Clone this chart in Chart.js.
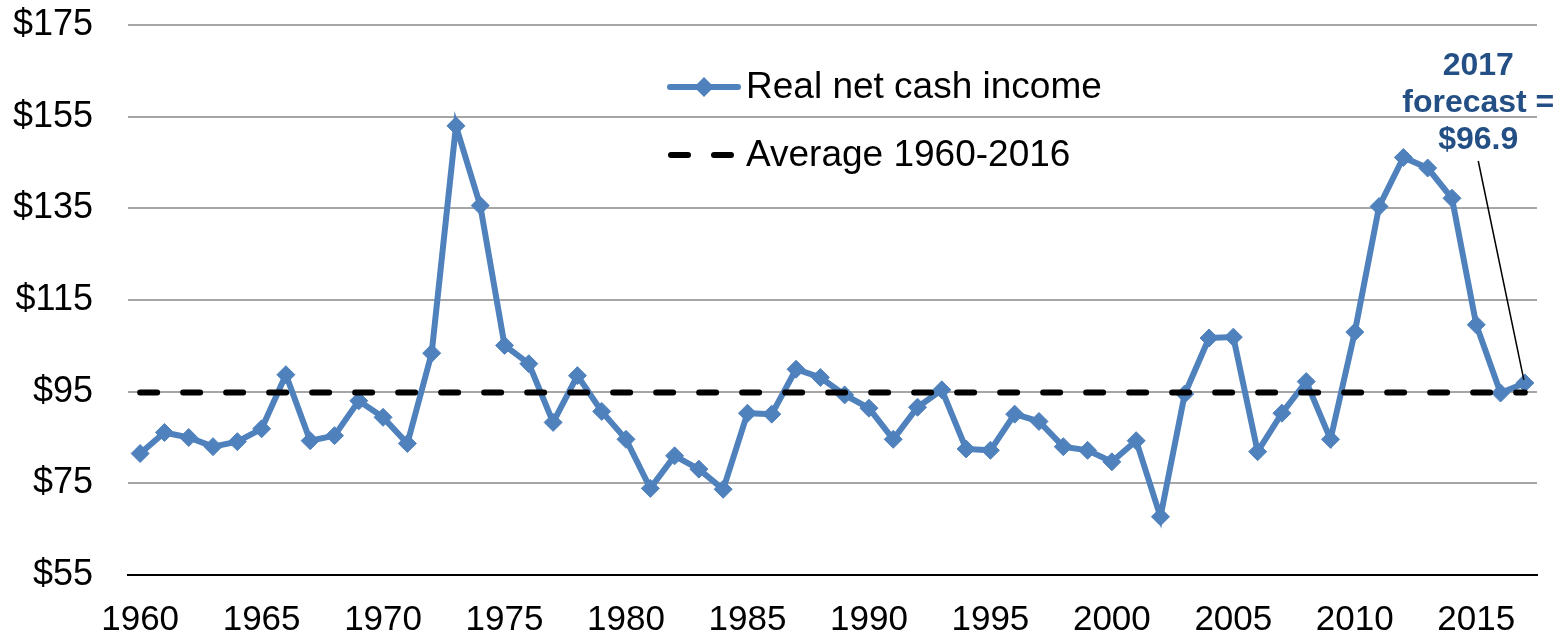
<!DOCTYPE html>
<html>
<head>
<meta charset="utf-8">
<script src="https://cdn.jsdelivr.net/npm/chart.js@4.4.0/dist/chart.umd.min.js"></script>
<style>
  html, body { margin: 0; padding: 0; background: #fff; }
  #wrap { width: 1560px; height: 637px; }
</style>
</head>
<body>
<div id="wrap"><canvas id="chart"></canvas></div>
<script>
// ---- data ----
const years = [
  "1960","1961","1962","1963","1964","1965","1966","1967","1968","1969",
  "1970","1971","1972","1973","1974","1975","1976","1977","1978","1979",
  "1980","1981","1982","1983","1984","1985","1986","1987","1988","1989",
  "1990","1991","1992","1993","1994","1995","1996","1997","1998","1999",
  "2000","2001","2002","2003","2004","2005","2006","2007","2008","2009",
  "2010","2011","2012","2013","2014","2015","2016","2017"
];

const realNetCashIncome = [
  81.5, 86.1, 85.0, 83.0, 84.1, 86.9, 98.7, 84.3, 85.4, 93.0,
  89.4, 83.7, 103.4, 153.0, 135.6, 105.1, 101.1, 88.3, 98.5, 90.7,
  84.6, 73.9, 81.0, 78.1, 73.7, 90.3, 90.1, 99.9, 98.1, 94.3,
  91.4, 84.6, 91.6, 95.4, 82.5, 82.2, 90.1, 88.5, 83.0, 82.2,
  79.7, 84.3, 67.7, 94.5, 106.7, 106.9, 81.9, 90.3, 97.2, 84.6,
  108.0, 135.4, 146.1, 143.8, 137.2, 109.6, 94.7, 96.9
];

const averageValue = 94.8; // 1960-2016 average

const tickLabels = ["1960","1965","1970","1975","1980","1985","1990","1995","2000","2005","2010","2015"];
const yTicks = [55, 75, 95, 115, 135, 155, 175];

const seriesNames = ["Real net cash income", "Average 1960-2016"];
const forecastLines = ["2017", "forecast =", "$" + realNetCashIncome[realNetCashIncome.length - 1]];

// ---- styles ----
const BLUE = "#4F81BD";
const NOTE = "#244F84";
const FONT = "'Liberation Sans', Arial, Helvetica, sans-serif";

Chart.defaults.font.family = FONT;
Chart.defaults.color = "#000";

// custom legend (inside the plot) + forecast note
const extras = {
  id: "extras",
  afterDatasetsDraw(chart) {
    const { ctx, chartArea, scales } = chart;
    const ds = chart.data.datasets;
    ctx.save();

    // legend
    const lx = chartArea.left + 540;
    const ly1 = chartArea.top + 62;
    const ly2 = chartArea.top + 130;

    ctx.strokeStyle = ds[0].borderColor;
    ctx.lineWidth = ds[0].borderWidth;
    ctx.lineCap = "round";
    ctx.beginPath();
    ctx.moveTo(lx + 2, ly1);
    ctx.lineTo(lx + 70, ly1);
    ctx.stroke();
    ctx.fillStyle = ds[0].borderColor;
    ctx.beginPath();
    ctx.moveTo(lx + 36, ly1 - 10);
    ctx.lineTo(lx + 46, ly1);
    ctx.lineTo(lx + 36, ly1 + 10);
    ctx.lineTo(lx + 26, ly1);
    ctx.closePath();
    ctx.fill();

    ctx.strokeStyle = ds[1].borderColor;
    ctx.lineWidth = ds[1].borderWidth;
    ctx.setLineDash(ds[1].borderDash);
    ctx.beginPath();
    ctx.moveTo(lx + 3, ly2);
    ctx.lineTo(lx + 70, ly2);
    ctx.stroke();
    ctx.setLineDash([]);

    ctx.fillStyle = "#000";
    ctx.font = "37px " + FONT;
    ctx.textBaseline = "middle";
    ctx.textAlign = "left";
    ctx.fillText(ds[0].label, lx + 78, ly1 + 1);
    ctx.fillText(ds[1].label, lx + 78, ly2 + 1);

    // forecast note
    const meta = chart.getDatasetMeta(0);
    const pt = meta.data[meta.data.length - 1];
    const nx = scales.x.getPixelForValue(55) + 2;
    ctx.fillStyle = NOTE;
    ctx.font = "bold 32px " + FONT;
    ctx.textAlign = "center";
    forecastLines.forEach((t, i) => {
      ctx.fillText(t, nx, chartArea.top + 41 + i * 37);
    });
    ctx.strokeStyle = "#000";
    ctx.lineWidth = 1.5;
    ctx.lineCap = "butt";
    ctx.beginPath();
    ctx.moveTo(nx, chartArea.top + 136);
    ctx.lineTo(pt.x - 1, pt.y - 3);
    ctx.stroke();

    ctx.restore();
  }
};

new Chart(document.getElementById("chart"), {
  type: "line",
  data: {
    labels: years,
    datasets: [
      {
        label: seriesNames[0],
        data: realNetCashIncome,
        borderColor: BLUE,
        backgroundColor: BLUE,
        borderWidth: 6,
        pointStyle: "rectRot",
        pointRadius: 9,
        pointBorderWidth: 1,
        pointBackgroundColor: BLUE,
        pointBorderColor: BLUE,
        tension: 0,
        order: 1
      },
      {
        label: seriesNames[1],
        data: years.map(() => averageValue),
        borderColor: "#000",
        borderWidth: 6,
        borderDash: [17, 26],
        borderCapStyle: "round",
        pointRadius: 0,
        tension: 0,
        order: 0
      }
    ]
  },
  options: {
    responsive: true,
    maintainAspectRatio: false,
    animation: false,
    layout: { padding: { left: 0, right: 23, top: 25, bottom: 0 } },
    plugins: {
      legend: { display: false },
      tooltip: { enabled: false }
    },
    scales: {
      x: {
        offset: true,
        grid: { display: false, drawTicks: false },
        border: { display: true, color: "#000", width: 2 },
        ticks: {
          autoSkip: false,
          maxRotation: 0,
          padding: 24,
          font: { size: 35 },
          color: "#000",
          callback(value, index) {
            const y = years[index];
            return tickLabels.includes(y) ? y : "";
          }
        },
        afterFit(scale) {
          scale.height = 62;
          scale.paddingLeft = 0;
          scale.paddingRight = 0;
        }
      },
      y: {
        min: yTicks[0],
        max: yTicks[yTicks.length - 1],
        grid: { color: "#A6A6A6", lineWidth: 2, drawTicks: false },
        border: { display: false },
        ticks: {
          stepSize: 20,
          padding: 35,
          font: { size: 36 },
          color: "#000",
          callback: v => "$" + v
        },
        afterFit(scale) {
          scale.width = 128;
          scale.paddingTop = 0;
          scale.paddingBottom = 0;
        }
      }
    }
  },
  plugins: [extras]
});
</script>
</body>
</html>
